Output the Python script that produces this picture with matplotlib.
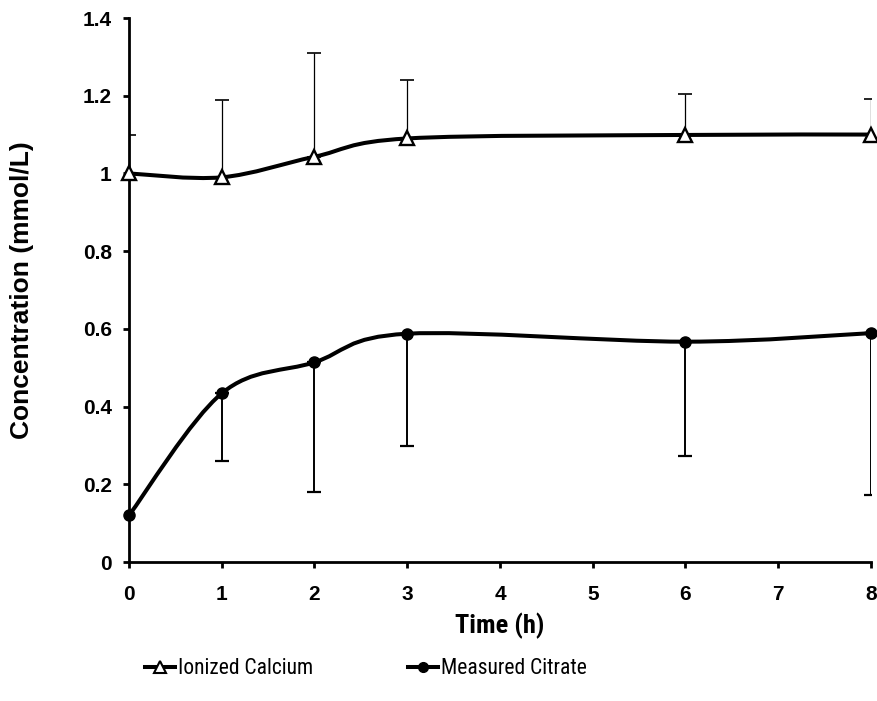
import matplotlib
matplotlib.use("Agg")
import matplotlib.pyplot as plt
import numpy as np
from matplotlib import font_manager
from matplotlib.path import Path
from matplotlib.patches import PathPatch
from matplotlib.lines import Line2D

# time points (h)
time_h = [0, 1, 2, 3, 6, 8]

# ionized calcium, mean and upper error (SD)
calcium = [1.00, 0.99, 1.043, 1.09, 1.099, 1.10]
calcium_err = [0.10, 0.20, 0.267, 0.151, 0.106, 0.092]

# measured citrate, mean and lower error (SD)
citrate = [0.12, 0.434, 0.514, 0.5875, 0.567, 0.589]
citrate_err = [0.0, 0.175, 0.333, 0.29, 0.294, 0.417]

x_ticks = [0, 1, 2, 3, 4, 5, 6, 7, 8]
y_ticks = [0, 0.2, 0.4, 0.6, 0.8, 1.0, 1.2, 1.4]
y_tick_labels = ["0", "0.2", "0.4", "0.6", "0.8", "1", "1.2", "1.4"]
series_names = ["Ionized Calcium", "Measured Citrate"]

BOLD = ["Liberation Sans", "DejaVu Sans"]

# look for a narrow sans (like Arial Narrow) among the installed fonts
installed = {f.name for f in font_manager.fontManager.ttflist}
narrow = None
for cand in ["Liberation Sans Narrow", "Roboto Condensed", "Noto Sans Condensed",
             "Open Sans Condensed", "DejaVu Sans Condensed"]:
    if cand in installed:
        narrow = cand
        break
if narrow:
    NARROW = [narrow, "Liberation Sans"]
    leg_size = 15.5
    xlab_size = 19
else:
    NARROW = ["Liberation Sans"]
    leg_size = 13
    xlab_size = 17


def smooth_path(x, y):
    """Excel-like smoothed line: cubic Bezier segments through the points."""
    pts = np.column_stack([x, y]).astype(float)
    n = len(pts)
    verts = [pts[0]]
    codes = [Path.MOVETO]
    for i in range(n - 1):
        p0 = pts[i - 1] if i > 0 else pts[i]
        p1 = pts[i]
        p2 = pts[i + 1]
        p3 = pts[i + 2] if i + 2 < n else pts[i + 1]
        c1 = p1 + (p2 - p0) / 6.0
        c2 = p2 - (p3 - p1) / 6.0
        verts += [c1, c2, p2]
        codes += [Path.CURVE4] * 3
    return Path(verts, codes)


fig = plt.figure(figsize=(8.78, 7.01), dpi=100)
ax = fig.add_axes([129 / 878, 139 / 701, 742 / 878, 544 / 701])

# error bars (one-sided)
ax.errorbar(time_h, calcium, yerr=[np.zeros(len(calcium)), calcium_err],
            fmt="none", ecolor="black", elinewidth=0.9, capsize=5, capthick=1.2, zorder=2)
ax.errorbar(time_h[1:], citrate[1:], yerr=[citrate_err[1:], np.zeros(len(citrate) - 1)],
            fmt="none", ecolor="black", elinewidth=1.4, capsize=5, capthick=1.6, zorder=2)

# smoothed lines
for vals in (calcium, citrate):
    ax.add_patch(PathPatch(smooth_path(time_h, vals), facecolor="none",
                           edgecolor="black", lw=2.9, zorder=3, clip_on=False))

# markers
ax.plot(time_h, calcium, ls="none", marker="^", ms=10, mfc="white", mec="black",
        mew=1.7, zorder=4, clip_on=False)
ax.plot(time_h, citrate, ls="none", marker="o", ms=8, mfc="black", mec="black",
        zorder=4, clip_on=False)

ax.set_xlim(0, 8)
ax.set_ylim(0, 1.4)
ax.set_xticks(x_ticks)
ax.set_xticklabels([str(t) for t in x_ticks], fontsize=15, fontweight="bold", family=BOLD)
ax.set_yticks(y_ticks)
ax.set_yticklabels(y_tick_labels, fontsize=15, fontweight="bold", family=BOLD)

for side in ("top", "right"):
    ax.spines[side].set_visible(False)
for side in ("left", "bottom"):
    ax.spines[side].set_linewidth(2.0)
ax.tick_params(direction="out", length=4.5, width=2.0)
ax.tick_params(axis="x", pad=12)
ax.tick_params(axis="y", pad=8)

ax.set_xlabel("Time (h)", fontsize=xlab_size, fontweight="bold", family=NARROW, va="center")
ax.xaxis.set_label_coords(0.5, (562 - 626) / 544)
ax.set_ylabel("Concentration (mmol/L)", fontsize=19, fontweight="bold", family=BOLD, va="center")
ax.yaxis.set_label_coords((22 - 129) / 742, 0.5)

handles = [
    Line2D([], [], color="black", lw=2.9, marker="^", ms=9, mfc="white", mec="black", mew=1.5),
    Line2D([], [], color="black", lw=2.9, marker="o", ms=7, mfc="black", mec="black"),
]
for h, name, x0 in zip(handles, series_names, (145, 408)):
    fig.legend([h], [name], loc="center left", bbox_to_anchor=(x0 / 878, 1 - 669 / 701),
               frameon=False, borderpad=0, borderaxespad=0, handlelength=30 / (leg_size * 1.389),
               handletextpad=0.12, prop={"family": NARROW, "size": leg_size})

fig.savefig("out.png", dpi=100)
